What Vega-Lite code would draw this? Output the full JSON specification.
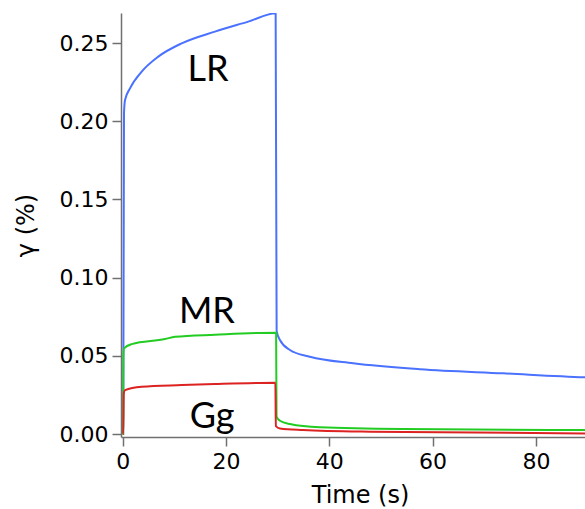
{
  "$schema": "https://vega.github.io/schema/vega-lite/v6.json",
  "width": 464,
  "height": 424,
  "autosize": {"type": "none"},
  "padding": {"left": 121, "top": 13, "right": 0, "bottom": 72},
  "background": "white",
  "config": {
    "view": {"stroke": null},
    "font": "DejaVu Sans"
  },
  "datasets": {
    "curves": [
      {"series": "LR", "t": 0, "v": 0},
      {"series": "LR", "t": 0.1, "v": 0.0},
      {"series": "LR", "t": 0.25, "v": 0.205},
      {"series": "LR", "t": 0.45, "v": 0.2136},
      {"series": "LR", "t": 1.41, "v": 0.221},
      {"series": "LR", "t": 3.68, "v": 0.2317},
      {"series": "LR", "t": 6.89, "v": 0.2413},
      {"series": "LR", "t": 11.42, "v": 0.2498},
      {"series": "LR", "t": 17.86, "v": 0.2573},
      {"series": "LR", "t": 24.31, "v": 0.2637},
      {"series": "LR", "t": 29.61, "v": 0.269},
      {"series": "LR", "t": 29.8, "v": 0.066},
      {"series": "LR", "t": 30.44, "v": 0.0601},
      {"series": "LR", "t": 32.37, "v": 0.0537},
      {"series": "LR", "t": 36.24, "v": 0.0494},
      {"series": "LR", "t": 44.63, "v": 0.0452},
      {"series": "LR", "t": 57.54, "v": 0.0414},
      {"series": "LR", "t": 73.66, "v": 0.0388},
      {"series": "LR", "t": 89.47, "v": 0.0363},
      {"series": "LR", "t": 92, "v": 0.036},
      {"series": "MR", "t": 0, "v": 0},
      {"series": "MR", "t": 0.08, "v": 0.0},
      {"series": "MR", "t": 0.14, "v": 0.05},
      {"series": "MR", "t": 0.25, "v": 0.0548},
      {"series": "MR", "t": 1.74, "v": 0.0575},
      {"series": "MR", "t": 8.19, "v": 0.0607},
      {"series": "MR", "t": 10.12, "v": 0.0622},
      {"series": "MR", "t": 17.86, "v": 0.0635},
      {"series": "MR", "t": 29.7, "v": 0.0648},
      {"series": "MR", "t": 29.78, "v": 0.0111},
      {"series": "MR", "t": 30.44, "v": 0.0085},
      {"series": "MR", "t": 32.37, "v": 0.0064},
      {"series": "MR", "t": 38.2, "v": 0.0043},
      {"series": "MR", "t": 54.25, "v": 0.0032},
      {"series": "MR", "t": 89.47, "v": 0.0026},
      {"series": "MR", "t": 92, "v": 0.0026},
      {"series": "Gg", "t": 0, "v": 0},
      {"series": "Gg", "t": 0.1, "v": 0.0},
      {"series": "Gg", "t": 0.2, "v": 0.026},
      {"series": "Gg", "t": 0.45, "v": 0.0281},
      {"series": "Gg", "t": 3.68, "v": 0.0302},
      {"series": "Gg", "t": 11.42, "v": 0.0313},
      {"series": "Gg", "t": 17.86, "v": 0.032},
      {"series": "Gg", "t": 29.55, "v": 0.0328},
      {"series": "Gg", "t": 29.65, "v": 0.0051},
      {"series": "Gg", "t": 30.44, "v": 0.0036},
      {"series": "Gg", "t": 34.9, "v": 0.0026},
      {"series": "Gg", "t": 47.9, "v": 0.0015},
      {"series": "Gg", "t": 89.47, "v": 0.0004},
      {"series": "Gg", "t": 92, "v": 0.0004}
    ],
    "labels": [
      {"label": "LR", "t": 16.5, "v": 0.2257},
      {"label": "MR", "t": 16.3, "v": 0.071},
      {"label": "Gg", "t": 17.3, "v": 0.0038}
    ]
  },
  "layer": [
    {
      "data": {"name": "curves"},
      "mark": {"type": "line", "strokeWidth": 2, "clip": true, "interpolate": "monotone"},
      "encoding": {
        "x": {
          "field": "t", "type": "quantitative",
          "scale": {"domain": [-0.33, 89.5], "nice": false, "zero": false},
          "axis": {
            "title": "Time (s)",
            "values": [0, 20, 40, 60, 80],
            "grid": false,
            "domainColor": "#707070",
            "domainWidth": 1.5,
            "tickColor": "#707070",
            "tickWidth": 1.5,
            "tickSize": 9,
            "labelFontSize": 22,
            "labelColor": "black",
            "labelPadding": 5,
            "labelFont": "DejaVu Sans",
            "titleFont": "DejaVu Sans",
            "titleFontSize": 24,
            "titleFontWeight": "normal",
            "titleColor": "black",
            "titleX": 239,
            "titleY": 65,
            "titleBaseline": "alphabetic"
          }
        },
        "y": {
          "field": "v", "type": "quantitative",
          "scale": {"domain": [-0.0019, 0.2692], "nice": false, "zero": false},
          "axis": {
            "title": "γ (%)",
            "values": [0, 0.05, 0.1, 0.15, 0.2, 0.25],
            "format": ".2f",
            "grid": false,
            "domainColor": "#707070",
            "domainWidth": 1.5,
            "tickColor": "#707070",
            "tickWidth": 1.5,
            "tickSize": 9,
            "labelFontSize": 22,
            "labelColor": "black",
            "labelPadding": 4,
            "labelFont": "DejaVu Sans",
            "titleFont": "DejaVu Sans",
            "titleFontSize": 24,
            "titleFontWeight": "normal",
            "titleColor": "black",
            "titleX": -88,
            "titleY": 212,
            "titleAngle": 270,
            "titleAlign": "center",
            "titleBaseline": "alphabetic"
          }
        },
        "color": {
          "field": "series", "type": "nominal",
          "scale": {"domain": ["LR", "MR", "Gg"], "range": ["#4a72ff", "#22cc22", "#dd2222"]},
          "legend": null
        },
        "detail": {"field": "series"}
      }
    },
    {
      "data": {"name": "labels"},
      "mark": {"type": "text", "font": "Lato", "fontSize": 36, "color": "black", "align": "center", "baseline": "alphabetic"},
      "encoding": {
        "x": {"field": "t", "type": "quantitative"},
        "y": {"field": "v", "type": "quantitative"},
        "text": {"field": "label"}
      }
    }
  ]
}
